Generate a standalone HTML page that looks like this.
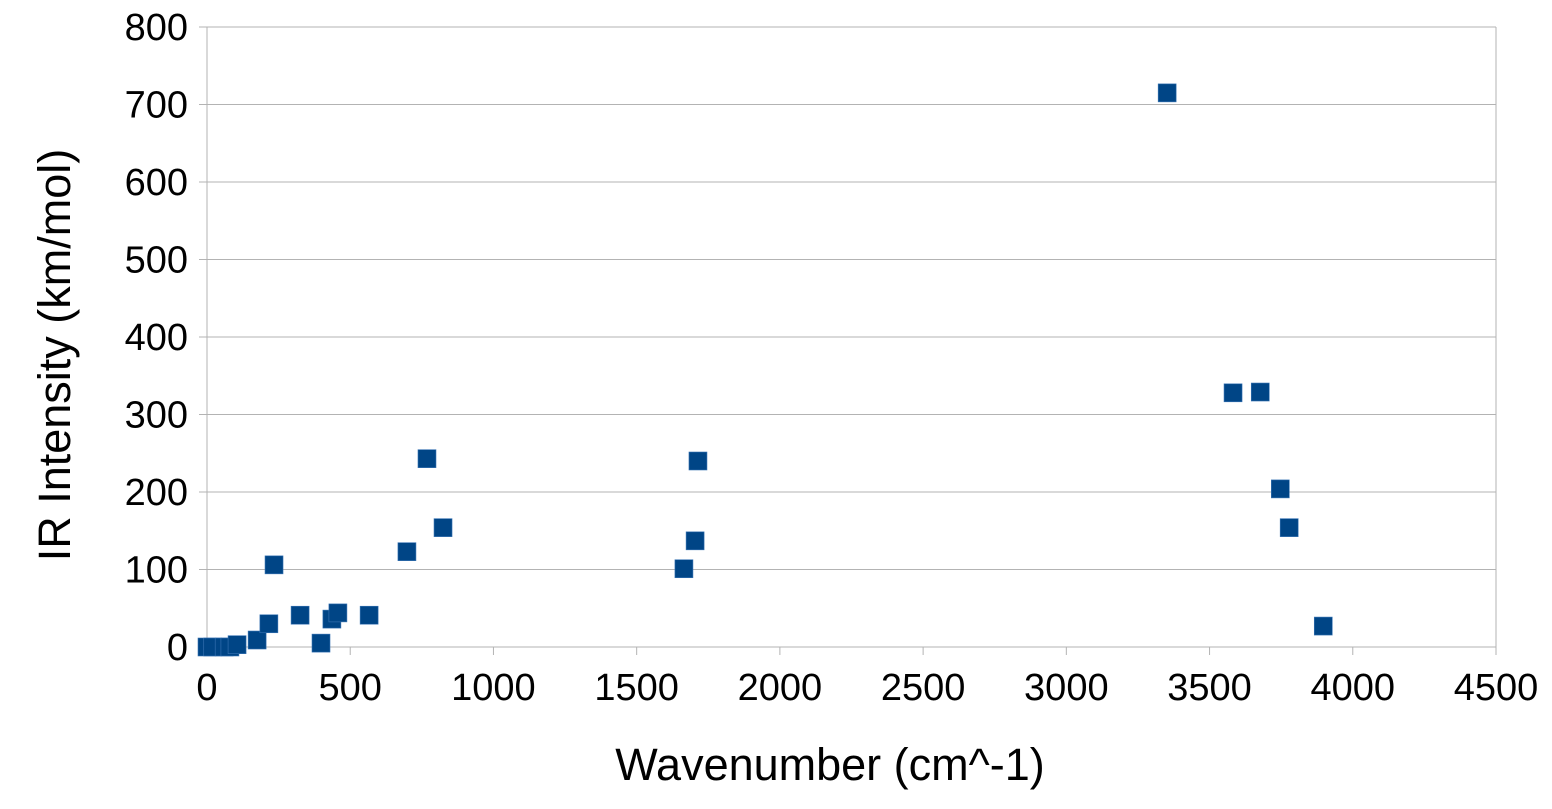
<!DOCTYPE html>
<html><head><meta charset="utf-8"><style>
body{margin:0;background:#fff}
svg text{font-family:"Liberation Sans",sans-serif;fill:#000}
</style></head><body>
<svg width="1552" height="804" id="c"></svg>
<script>
const xTicks=[0,500,1000,1500,2000,2500,3000,3500,4000,4500];
const yTicks=[0,100,200,300,400,500,600,700,800];
const wavenumbers=[0,20,60,80,105,175,216,234,325,398,436,457,566,698,768,824,1665,1704,1714,3352,3582,3677,3747,3778,3897];
const intensities=[0,0,0,0,3,9,30,106,41,5,36,44,41,123,243,154,101,137,240,715,328,329,204,154,27];
const NS='http://www.w3.org/2000/svg';
const svg=document.getElementById('c');
const L=207,R=1496,T=27,B=647;
const sx=v=>L+(v-0)/4500*(R-L);
const sy=v=>B-(v/800)*(B-T);
function mk(t,a){const e=document.createElementNS(NS,t);for(const k in a)e.setAttribute(k,a[k]);svg.appendChild(e);return e;}
yTicks.forEach(v=>{
 const g=mk('line',{x1:L-8,x2:R,y1:sy(v),y2:sy(v),stroke:'#b3b3b3','stroke-width':1});
 
 
 const t=mk('text',{x:188,y:sy(v)+13,'text-anchor':'end','font-size':38});
 t.textContent=v;
 
 
});
xTicks.forEach(v=>{
 const g=mk('line',{x1:sx(v),x2:sx(v),y1:B,y2:B+8,stroke:'#b3b3b3','stroke-width':1});
 
 
 const t=mk('text',{x:sx(v),y:700,'text-anchor':'middle','font-size':38});
 t.textContent=v;
 
 
});
const ay=mk('line',{x1:L,x2:L,y1:T,y2:B+8,stroke:'#b3b3b3','stroke-width':1});


const ar=mk('line',{x1:R,x2:R,y1:T,y2:B,stroke:'#b3b3b3','stroke-width':1});


wavenumbers.forEach((w,i)=>{
 const r=mk('rect',{x:sx(w)-9,y:sy(intensities[i])-9,width:18,height:18,fill:'#004586',stroke:'#3a75b5','stroke-width':0.6});
 
 
});
const xt=mk('text',{x:830,y:780,'text-anchor':'middle','font-size':45});
xt.textContent='Wavenumber (cm^-1)';


const yt=mk('text',{x:0,y:0,'text-anchor':'middle','font-size':45,transform:'translate(70,355) rotate(-90)'});
yt.textContent='IR Intensity (km/mol)';


</script>
</body></html>
